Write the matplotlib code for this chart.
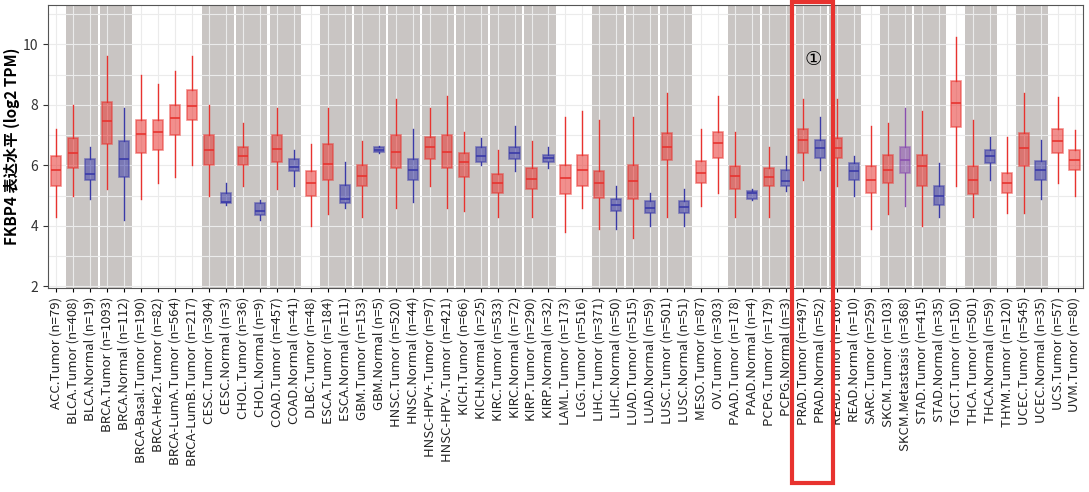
import matplotlib
matplotlib.use("Agg")
import matplotlib.pyplot as plt
import matplotlib.patches as mpatches
import matplotlib.transforms as mtransforms

plt.rcParams['font.family'] = ['Noto Sans CJK SC', 'DejaVu Sans']

labels = [
    "ACC.Tumor (n=79)", "BLCA.Tumor (n=408)", "BLCA.Normal (n=19)", "BRCA.Tumor (n=1093)",
    "BRCA.Normal (n=112)", "BRCA-Basal.Tumor (n=190)", "BRCA-Her2.Tumor (n=82)",
    "BRCA-LumA.Tumor (n=564)", "BRCA-LumB.Tumor (n=217)", "CESC.Tumor (n=304)",
    "CESC.Normal (n=3)", "CHOL.Tumor (n=36)", "CHOL.Normal (n=9)", "COAD.Tumor (n=457)",
    "COAD.Normal (n=41)", "DLBC.Tumor (n=48)", "ESCA.Tumor (n=184)", "ESCA.Normal (n=11)",
    "GBM.Tumor (n=153)", "GBM.Normal (n=5)", "HNSC.Tumor (n=520)", "HNSC.Normal (n=44)",
    "HNSC-HPV+.Tumor (n=97)", "HNSC-HPV-.Tumor (n=421)", "KICH.Tumor (n=66)",
    "KICH.Normal (n=25)", "KIRC.Tumor (n=533)", "KIRC.Normal (n=72)", "KIRP.Tumor (n=290)",
    "KIRP.Normal (n=32)", "LAML.Tumor (n=173)", "LGG.Tumor (n=516)", "LIHC.Tumor (n=371)",
    "LIHC.Normal (n=50)", "LUAD.Tumor (n=515)", "LUAD.Normal (n=59)", "LUSC.Tumor (n=501)",
    "LUSC.Normal (n=51)", "MESO.Tumor (n=87)", "OV.Tumor (n=303)", "PAAD.Tumor (n=178)",
    "PAAD.Normal (n=4)", "PCPG.Tumor (n=179)", "PCPG.Normal (n=3)", "PRAD.Tumor (n=497)",
    "PRAD.Normal (n=52)", "READ.Tumor (n=166)", "READ.Normal (n=10)", "SARC.Tumor (n=259)",
    "SKCM.Tumor (n=103)", "SKCM.Metastasis (n=368)", "STAD.Tumor (n=415)", "STAD.Normal (n=35)",
    "TGCT.Tumor (n=150)", "THCA.Tumor (n=501)", "THCA.Normal (n=59)", "THYM.Tumor (n=120)",
    "UCEC.Tumor (n=545)", "UCEC.Normal (n=35)", "UCS.Tumor (n=57)", "UVM.Tumor (n=80)",
]

# box stats: q1, median, q3, whisker low, whisker high
q1 = [5.3, 5.9, 5.5, 6.7, 5.6, 6.4, 6.5, 7.0, 7.5, 6.0, 4.75, 6.0, 4.35, 6.1, 5.8, 5.0,
      5.5, 4.75, 5.3, 6.45, 5.9, 5.5, 6.2, 5.9, 5.6, 6.1, 5.1, 6.2, 5.2, 6.1,
      5.04, 5.3, 4.93, 4.49, 4.87, 4.43, 6.19, 4.43, 5.42, 6.24, 5.2, 4.87, 5.3, 5.3,
      6.4, 6.24, 6.24, 5.53, 5.1, 5.42, 5.75, 5.3, 4.7, 7.28, 5.04, 6.08, 5.1, 5.97,
      5.53, 6.4, 5.86]
med = [5.85, 6.4, 5.7, 7.45, 6.2, 7.05, 7.1, 7.55, 7.95, 6.5, 4.8, 6.3, 4.5, 6.55, 5.95, 5.4,
       6.05, 4.9, 5.65, 6.5, 6.45, 5.85, 6.6, 6.45, 6.1, 6.3, 5.4, 6.4, 5.55, 6.25,
       5.58, 5.86, 5.42, 4.7, 5.47, 4.6, 6.62, 4.62, 5.75, 6.73, 5.64, 5.1, 5.6, 5.47,
       6.84, 6.57, 6.57, 5.8, 5.53, 5.86, 6.19, 5.97, 4.98, 8.05, 5.53, 6.3, 5.42, 6.57,
       5.86, 6.8, 6.19]
q3 = [6.3, 6.9, 6.2, 8.1, 6.8, 7.5, 7.5, 8.0, 8.5, 7.0, 5.1, 6.6, 4.75, 7.0, 6.2, 5.8,
      6.7, 5.35, 6.0, 6.6, 7.0, 6.2, 6.95, 7.0, 6.4, 6.6, 5.7, 6.6, 5.9, 6.35,
      6.02, 6.35, 5.8, 4.87, 6.02, 4.82, 7.06, 4.82, 6.13, 7.1, 5.97, 5.15, 5.9, 5.86,
      7.2, 6.84, 6.9, 6.08, 5.97, 6.35, 6.62, 6.35, 5.3, 8.8, 5.97, 6.5, 5.75, 7.06,
      6.13, 7.2, 6.5]
wlo = [4.3, 5.0, 4.9, 5.2, 4.2, 4.9, 5.4, 5.6, 6.0, 5.0, 4.7, 5.3, 4.2, 5.2, 5.3, 4.0,
       4.4, 4.6, 4.3, 6.4, 4.6, 4.8, 5.3, 4.6, 4.5, 6.0, 4.3, 5.8, 4.3, 5.9,
       3.8, 4.6, 3.9, 3.9, 3.6, 4.0, 4.3, 4.0, 4.65, 5.1, 4.3, 4.85, 4.3, 5.15,
       5.5, 5.86, 5.3, 5.0, 3.9, 4.4, 4.65, 4.0, 4.3, 5.3, 4.3, 5.53, 4.43, 4.43,
       4.87, 5.42, 5.0]
whi = [7.2, 8.0, 6.6, 9.6, 7.9, 9.0, 8.7, 9.1, 9.6, 8.0, 5.4, 7.4, 4.85, 7.9, 6.5, 6.7,
       7.9, 6.1, 6.8, 6.65, 8.2, 7.2, 7.9, 8.3, 7.1, 6.9, 6.5, 7.3, 6.8, 6.6,
       7.6, 7.8, 7.5, 5.3, 7.6, 5.1, 8.4, 5.2, 7.2, 8.3, 7.1, 5.2, 6.6, 6.3,
       8.2, 7.6, 8.2, 6.3, 7.3, 7.4, 7.9, 7.8, 6.08, 10.24, 7.5, 6.95, 6.95, 8.4,
       6.84, 8.27, 7.17]

# cancer types drawn on a grey band (first, last index)
grey_spans = [(1, 2), (3, 4), (9, 10), (11, 12), (13, 14), (16, 17), (18, 19), (20, 21),
              (22, 23), (24, 25), (26, 27), (28, 29), (32, 33), (34, 35), (36, 37),
              (40, 41), (42, 43), (44, 45), (46, 47), (49, 50), (51, 52), (54, 55), (57, 58)]

def color_for(lab):
    if ".Normal" in lab:
        return "#3a3aa8"
    if "Metastasis" in lab:
        return "#8a4fb0"
    return "#e8332f"

fig = plt.figure(figsize=(10.89, 4.92), dpi=100)
ax = fig.add_axes([0.044, 0.415, 0.9505, 0.575])
ax.set_facecolor("white")

for a, b in grey_spans:
    ax.axvspan(a - 0.44, b + 0.44, color="#c9c5c3", lw=0, zorder=0)

for i, lab in enumerate(labels):
    c = color_for(lab)
    s = dict(med=med[i], q1=q1[i], q3=q3[i], whislo=wlo[i], whishi=whi[i], fliers=[])
    ax.bxp([s], positions=[i], widths=0.6, patch_artist=True, showfliers=False,
           boxprops=dict(facecolor=c, alpha=0.55, edgecolor=c, lw=1.2),
           medianprops=dict(color=c, lw=1.2),
           whiskerprops=dict(color=c, lw=1),
           capprops=dict(color=c, lw=1, alpha=0))

ax.set_xticks(range(len(labels)))
ax.set_xticklabels(labels, rotation=90, fontsize=9.5, color="#222222")
ax.set_yticks([2, 4, 6, 8, 10])
ax.set_yticks([3, 5, 7, 9, 11], minor=True)
ax.set_yticklabels(["2", "4", "6", "8", "10"])
ax.grid(True, which="both", color="#ebebeb", lw=0.8, zorder=0.5)
ax.set_axisbelow(True)
ax.set_xlim(-0.5, len(labels) - 0.5)
ax.set_ylim(1.95, 11.3)
ax.tick_params(axis="y", labelsize=10, colors="#333333")
ax.tick_params(axis="y", which="minor", length=0)
ax.tick_params(axis="x", length=3)
ax.set_ylabel("FKBP4 表达水平 (log2 TPM)", fontsize=11, fontweight="bold")
ax.yaxis.set_label_coords(-0.027, 0.5)
for sp in ax.spines.values():
    sp.set_color("#555555")

trans = mtransforms.blended_transform_factory(ax.transData, ax.transAxes)
rect = mpatches.Rectangle((43.35, -0.69), 2.4, 1.7, transform=trans, fill=False,
                          edgecolor="#e8332f", lw=3, clip_on=False, zorder=10)
ax.add_patch(rect)
ax.text(44.6, 9.5, "①", fontsize=14, ha="center", va="center", color="black",
        family=['DejaVu Sans'], zorder=11)

fig.savefig("out.png", dpi=100)
